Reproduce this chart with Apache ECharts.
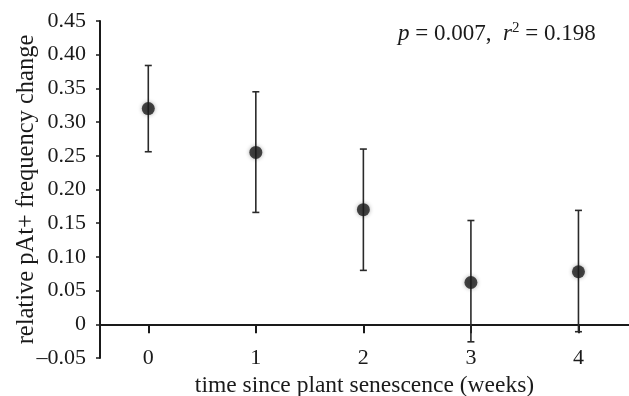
<!DOCTYPE html>
<html>
<head>
<meta charset="utf-8">
<script src="https://cdn.jsdelivr.net/npm/echarts@6/dist/echarts.min.js"></script>
<style>
  html, body { margin: 0; padding: 0; background: #fff; }
  #chart { width: 629px; height: 396px; }
</style>
</head>
<body>
<div id="chart"></div>
<script>
// données
const weeks = [0, 1, 2, 3, 4];
const meanChange = [0.320, 0.255, 0.170, 0.062, 0.078];
const lowerBar = [0.256, 0.166, 0.080, -0.026, -0.011];
const upperBar = [0.384, 0.345, 0.260, 0.154, 0.169];
const yTicks = [-0.05, 0, 0.05, 0.10, 0.15, 0.20, 0.25, 0.30, 0.35, 0.40, 0.45];

const chart = echarts.init(document.getElementById('chart'));
const serif = '"Liberation Serif", "DejaVu Serif", serif';
const fs = 23;

const option = {
  animation: false,
  grid: { left: 100, right: 0, top: 21, bottom: 38, outerBoundsMode: 'none' },
  xAxis: {
    type: 'value',
    min: -0.449,
    max: 4.47,
    name: 'time since plant senescence (weeks)',
    nameLocation: 'middle',
    nameGap: 16,
    nameMoveOverlap: false,
    nameTextStyle: { fontFamily: serif, fontSize: 23.5, color: '#1a1a1a', verticalAlign: 'top' },
    axisLine: { onZero: true, lineStyle: { color: '#1a1a1a', width: 2 } },
    axisTick: { show: true, length: 9, customValues: weeks, lineStyle: { color: '#1a1a1a', width: 2 } },
    axisLabel: {
      margin: -11,
      customValues: weeks,
      fontFamily: serif, fontSize: 22, color: '#1a1a1a'
    },
    splitLine: { show: false }
  },
  yAxis: {
    type: 'value',
    min: -0.05,
    max: 0.45,
    interval: 0.05,
    name: 'relative pAt+ frequency change',
    nameLocation: 'middle',
    nameGap: 61,
    nameMoveOverlap: false,
    nameTextStyle: { fontFamily: serif, fontSize: 24.5, color: '#1a1a1a' },
    axisLine: { show: true, onZero: false, lineStyle: { color: '#1a1a1a', width: 2 } },
    axisTick: { show: true, length: 4, customValues: yTicks, lineStyle: { color: '#1a1a1a', width: 1.5 } },
    axisLabel: {
      margin: 14,
      customValues: yTicks,
      fontFamily: serif, fontSize: 22, color: '#1a1a1a',
      formatter: v => {
        if (Math.abs(v) < 1e-9) return '0';
        return (v < 0 ? '\u2013' : '') + Math.abs(v).toFixed(2);
      }
    },
    splitLine: { show: false }
  },
  graphic: [
    {
      type: 'text',
      left: 398,
      top: 21,
      style: {
        text: '{i|p} = 0.007,  {i|r}{s|2} = 0.198',
        fontFamily: serif,
        fontSize: fs,
        fill: '#1a1a1a',
        rich: {
          i: { fontFamily: serif, fontSize: fs, fontStyle: 'italic', fill: '#1a1a1a' },
          s: { fontFamily: serif, fontSize: 15, fill: '#1a1a1a', verticalAlign: 'top', padding: [0, 0, 10, 0] }
        }
      }
    }
  ],
  series: [
    {
      name: 'barres',
      type: 'custom',
      data: weeks.map((w, i) => [w, lowerBar[i], upperBar[i]]),
      renderItem: (params, api) => {
        const lo = api.coord([api.value(0), api.value(1)]);
        const hi = api.coord([api.value(0), api.value(2)]);
        const half = 3.5;
        const style = { stroke: '#2a2a2a', lineWidth: 1.6 };
        return {
          type: 'group',
          children: [
            { type: 'line', shape: { x1: lo[0], y1: lo[1], x2: hi[0], y2: hi[1] }, style },
            { type: 'line', shape: { x1: lo[0] - half, y1: lo[1], x2: lo[0] + half, y2: lo[1] }, style },
            { type: 'line', shape: { x1: hi[0] - half, y1: hi[1], x2: hi[0] + half, y2: hi[1] }, style }
          ]
        };
      },
      z: 2
    },
    {
      name: 'moyennes',
      type: 'scatter',
      data: weeks.map((w, i) => [w, meanChange[i]]),
      symbol: 'circle',
      symbolSize: 13,
      itemStyle: {
        color: '#1c1c1c',
        shadowBlur: 4,
        shadowColor: 'rgba(0,0,0,0.4)'
      },
      z: 3
    }
  ]
};

chart.setOption(option);
</script>
</body>
</html>
